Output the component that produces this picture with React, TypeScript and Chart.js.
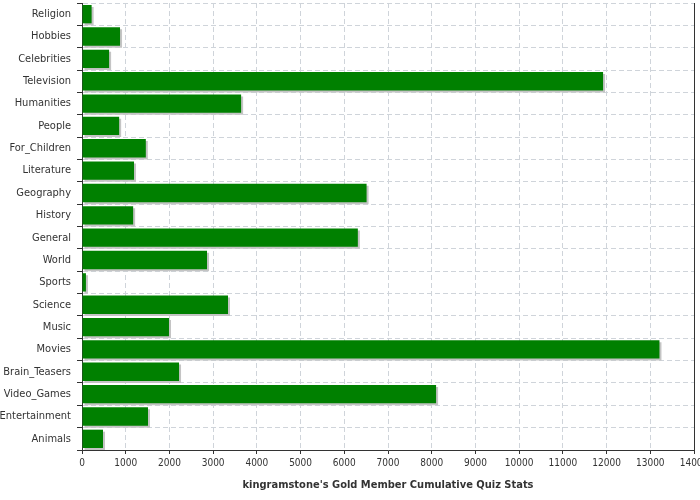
import React, { useEffect, useRef } from "react";
import { Chart, registerables } from "chart.js";

Chart.register(...registerables);

const categories = [
  "Religion",
  "Hobbies",
  "Celebrities",
  "Television",
  "Humanities",
  "People",
  "For_Children",
  "Literature",
  "Geography",
  "History",
  "General",
  "World",
  "Sports",
  "Science",
  "Music",
  "Movies",
  "Brain_Teasers",
  "Video_Games",
  "Entertainment",
  "Animals",
];

const values = [
  220, 870, 620, 11920, 3640, 850, 1460, 1190, 6510, 1170, 6310, 2860, 90, 3340,
  1990, 13210, 2220, 8100, 1510, 480,
];

const xMin = 0;
const xMax = 14000;
const xStep = 1000;

const chartTitle = "kingramstone's Gold Member Cumulative Quiz Stats";

const FONT = "'DejaVu Sans Condensed', 'DejaVu Sans', sans-serif";

const shadowPlugin = {
  id: "barShadow",
  beforeDatasetsDraw(chart: any) {
    const ctx = chart.ctx;
    ctx.save();
    ctx.shadowColor = "#c4c4c4";
    ctx.shadowOffsetX = 2;
    ctx.shadowOffsetY = 2;
    ctx.shadowBlur = 0;
  },
  afterDatasetsDraw(chart: any) {
    chart.ctx.restore();
  },
};

const rightBorderPlugin = {
  id: "rightBorder",
  afterDraw(chart: any) {
    const { ctx, chartArea } = chart;
    ctx.save();
    ctx.strokeStyle = "#333333";
    ctx.lineWidth = 1;
    ctx.beginPath();
    const x = Math.round(chartArea.right) + 0.5;
    ctx.moveTo(x, chartArea.top);
    ctx.lineTo(x, chartArea.bottom);
    ctx.stroke();
    ctx.restore();
  },
};

export default function App() {
  const canvasRef = useRef<HTMLCanvasElement | null>(null);

  useEffect(() => {
    document.body.style.margin = "0";
    const canvas = canvasRef.current;
    if (!canvas) return;
    const chart = new Chart(canvas, {
      type: "bar",
      data: {
        labels: categories,
        datasets: [
          {
            data: values,
            backgroundColor: "#008000",
            borderWidth: 0,
            categoryPercentage: 1,
            barPercentage: 0.82,
          },
        ],
      },
      options: {
        indexAxis: "y",
        responsive: false,
        animation: false,
        layout: { padding: { top: 3, right: 6, left: 0, bottom: 0 } },
        plugins: {
          legend: { display: false },
          tooltip: { enabled: false },
        },
        scales: {
          x: {
            type: "linear",
            min: xMin,
            max: xMax,
            ticks: {
              stepSize: xStep,
              color: "#333333",
              font: { family: FONT, size: 10 },
              padding: 3,
              maxRotation: 0,
              autoSkip: false,
              callback: (v: any) => String(v),
            },
            grid: {
              color: "#cfd4da",
              lineWidth: 1,
              tickColor: "#333333",
              tickLength: 4,
              tickBorderDash: [],
            },
            border: { display: true, color: "#333333", width: 1, dash: [5, 3] },
            title: {
              display: true,
              text: chartTitle,
              color: "#333333",
              font: { family: FONT, size: 11, weight: "bold" },
              padding: { top: 4, bottom: 8 },
            },
            afterFit(scale: any) {
              scale.height = 50;
              scale.paddingLeft = 0;
              scale.paddingRight = 0;
            },
          },
          y: {
            type: "category",
            ticks: {
              color: "#333333",
              font: { family: FONT, size: 11 },
              padding: 6,
              autoSkip: false,
            },
            grid: {
              offset: true,
              color: "#cfd4da",
              lineWidth: 1,
              tickColor: "#333333",
              tickLength: 5,
              tickBorderDash: [],
            },
            border: { display: true, color: "#333333", width: 1, dash: [5, 3] },
            afterFit(scale: any) {
              scale.width = 82;
              scale.paddingTop = 0;
              scale.paddingBottom = 0;
            },
          },
        },
      },
      plugins: [shadowPlugin, rightBorderPlugin],
    } as any);
    return () => chart.destroy();
  }, []);

  return (
    <div style={{ width: 700, height: 500, background: "#ffffff" }}>
      <canvas
        ref={canvasRef}
        width={700}
        height={500}
        style={{ display: "block", width: 700, height: 500 }}
      />
    </div>
  );
}
